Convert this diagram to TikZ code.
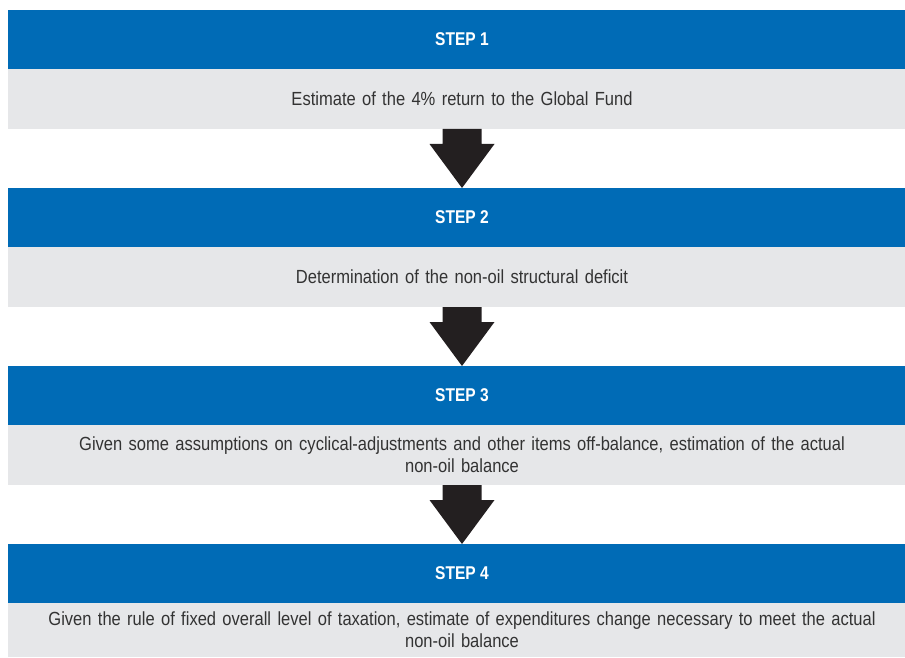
\documentclass[tikz,border=0pt]{standalone}
\usepackage{fontspec}
\setmainfont{Liberation Sans}[FakeStretch=0.87]
\newfontfamily\headfont{Liberation Sans}[FakeStretch=0.84]
\usepackage{tikz}
\usetikzlibrary{positioning,calc}

\definecolor{stepblue}{HTML}{006BB6}
\definecolor{stepgray}{HTML}{E6E7E9}
\definecolor{steptext}{HTML}{333333}
\definecolor{arrowblack}{HTML}{231F20}

\begin{document}
\begin{tikzpicture}[x=1pt, y=-1pt,
    stephead/.style={fill=stepblue, text=white, font=\headfont\bfseries\fontsize{18.5}{22}\selectfont,
        minimum width=908pt, minimum height=59pt, inner sep=0pt, outer sep=0pt},
    stepbody/.style={fill=stepgray, text=steptext, font=\fontsize{19}{22}\selectfont,
        minimum width=908pt, minimum height=60pt, text width=890pt, align=center,
        inner sep=0pt, outer sep=0pt},
    blockarrow/.style={fill=arrowblack}]
    \clip (0,0) rectangle (905,658);

    % Step 1
    \node[stephead, anchor=north west] (head1) at (8,10) {STEP 1};
    \node[stepbody, below=0pt of head1] (body1) {Estimate of the 4\% return to the Global Fund};

    % Step 2
    \node[stephead, below=59pt of body1] (head2) {STEP 2};
    \node[stepbody, below=0pt of head2] (body2) {Determination of the non-oil structural deficit};

    % Step 3
    \node[stephead, below=59pt of body2] (head3) {STEP 3};
    \node[stepbody, below=0pt of head3] (body3) {Given some assumptions on cyclical-adjustments and other items off-balance, estimation of the actual\\non-oil balance};

    % Step 4
    \node[stephead, below=59pt of body3] (head4) {STEP 4};
    \node[stepbody, below=0pt of head4, minimum height=54pt] (body4) {Given the rule of fixed overall level of taxation, estimate of expenditures change necessary to meet the actual\\non-oil balance};

    % Block arrows between the steps
    \foreach \a/\b in {body1/head2, body2/head3, body3/head4} {
        \fill[blockarrow] ($(\a.south)+(-19.5,0)$) -- ($(\a.south)+(19.5,0)$)
            -- ($(\a.south)+(19.5,15)$) -- ($(\a.south)+(32.5,15)$) -- (\b.north)
            -- ($(\a.south)+(-32.5,15)$) -- ($(\a.south)+(-19.5,15)$) -- cycle;
    }
\end{tikzpicture}
\end{document}
